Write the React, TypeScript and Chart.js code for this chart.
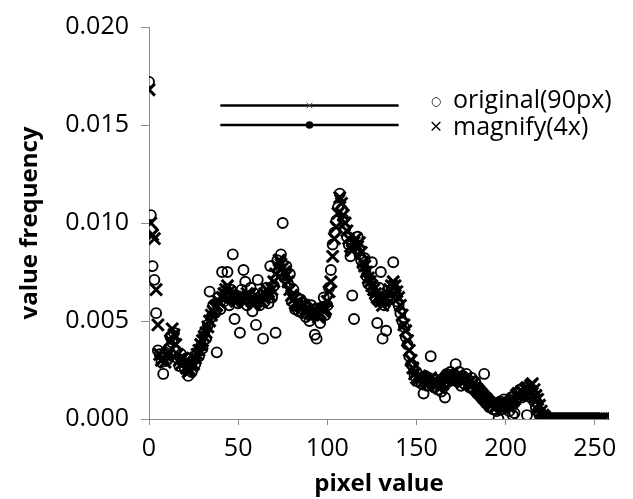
import React, { useEffect, useRef } from "react";
import { Chart, registerables } from "chart.js";
Chart.register(...registerables);

const PIXEL_VALUES: number[] = Array.from({ length: 256 }, (_, i) => i);

const ORIGINAL: number[] = [
  0.0172, 0.0104, 0.0078, 0.0071, 0.0054, 0.0035, 0.0033, 0.0029, 0.0023, 0.0034,
  0.0030, 0.0036, 0.0042, 0.0039, 0.0044, 0.0035, 0.0031, 0.0027, 0.0033, 0.0029,
  0.0026, 0.0031, 0.0022, 0.0027, 0.0024, 0.0030, 0.0028, 0.0034, 0.0032, 0.0037,
  0.0036, 0.0044, 0.0041, 0.0048, 0.0065, 0.0052, 0.0058, 0.0054, 0.0034, 0.0062,
  0.0056, 0.0075, 0.0060, 0.0066, 0.0075, 0.0058, 0.0066, 0.0084, 0.0051, 0.0063,
  0.0059, 0.0044, 0.0066, 0.0076, 0.0070, 0.0058, 0.0061, 0.0067, 0.0055, 0.0064,
  0.0048, 0.0071, 0.0058, 0.0063, 0.0041, 0.0060, 0.0067, 0.0059, 0.0078, 0.0062,
  0.0068, 0.0044, 0.0081, 0.0076, 0.0084, 0.0100, 0.0072, 0.0078, 0.0069, 0.0074,
  0.0060, 0.0066, 0.0056, 0.0062, 0.0055, 0.0061, 0.0054, 0.0059, 0.0052, 0.0057,
  0.0050, 0.0058, 0.0053, 0.0043, 0.0041, 0.0055, 0.0049, 0.0057, 0.0062, 0.0053,
  0.0058, 0.0067, 0.0076, 0.0089, 0.0095, 0.0101, 0.0108, 0.0115, 0.0107, 0.0102,
  0.0097, 0.0093, 0.0089, 0.0083, 0.0063, 0.0051, 0.0087, 0.0093, 0.0084, 0.0081,
  0.0078, 0.0082, 0.0073, 0.0069, 0.0071, 0.0080, 0.0065, 0.0062, 0.0049, 0.0067,
  0.0075, 0.0041, 0.0058, 0.0045, 0.0063, 0.0061, 0.0066, 0.0080, 0.0064, 0.0060,
  0.0058, 0.0054, 0.0050, 0.0047, 0.0042, 0.0038, 0.0032, 0.0028, 0.0027, 0.0022,
  0.0024, 0.0019, 0.0021, 0.0018, 0.0013, 0.0022, 0.0017, 0.0021, 0.0032, 0.0018,
  0.0016, 0.0020, 0.0015, 0.0019, 0.0014, 0.0018, 0.0011, 0.0023, 0.0019, 0.0024,
  0.0020, 0.0023, 0.0028, 0.0019, 0.0024, 0.0017, 0.0022, 0.0018, 0.0023, 0.0020,
  0.0016, 0.0021, 0.0015, 0.0019, 0.0013, 0.0016, 0.0012, 0.0010, 0.0023, 0.0008,
  0.0011, 0.0006, 0.0009, 0.0005, 0.0008, 0.0004, 0.0000, 0.0009, 0.0005, 0.0010,
  0.0006, 0.0009, 0.0004, 0.0011, 0.0002, 0.0003, 0.0010, 0.0013, 0.0015, 0.0011,
  0.0016, 0.0012, 0.0002, 0.0015, 0.0011, 0.0013, 0.0009, 0.0006, 0.0004, 0.0002,
  0.0001, 0, 0, 0, 0, 0, 0, 0, 0, 0,
  0, 0, 0, 0, 0, 0, 0, 0, 0, 0,
  0, 0, 0, 0, 0, 0, 0, 0, 0, 0,
  0, 0, 0, 0, 0, 0,
];

const MAGNIFY: number[] = [
  0.0168, 0.0100, 0.0094, 0.0092, 0.0066, 0.0048, 0.0033, 0.0030, 0.0031, 0.0029,
  0.0032, 0.0034, 0.0040, 0.0046, 0.0043, 0.0038, 0.0033, 0.0030, 0.0028, 0.0031,
  0.0029, 0.0026, 0.0024, 0.0025, 0.0027, 0.0028, 0.0031, 0.0033, 0.0035, 0.0038,
  0.0040, 0.0042, 0.0044, 0.0047, 0.0050, 0.0053, 0.0055, 0.0057, 0.0058, 0.0060,
  0.0059, 0.0062, 0.0064, 0.0066, 0.0068, 0.0065, 0.0063, 0.0062, 0.0061, 0.0060,
  0.0062, 0.0063, 0.0061, 0.0060, 0.0062, 0.0064, 0.0063, 0.0061, 0.0060, 0.0059,
  0.0060, 0.0062, 0.0061, 0.0060, 0.0062, 0.0064, 0.0066, 0.0065, 0.0063, 0.0066,
  0.0070, 0.0074, 0.0078, 0.0081, 0.0079, 0.0077, 0.0075, 0.0073, 0.0070, 0.0066,
  0.0063, 0.0061, 0.0059, 0.0058, 0.0060, 0.0058, 0.0057, 0.0058, 0.0056, 0.0055,
  0.0056, 0.0054, 0.0053, 0.0055, 0.0054, 0.0052, 0.0054, 0.0056, 0.0055, 0.0056,
  0.0060, 0.0065, 0.0070, 0.0083, 0.0092, 0.0098, 0.0105, 0.0113, 0.0110, 0.0104,
  0.0100, 0.0096, 0.0092, 0.0088, 0.0086, 0.0090, 0.0092, 0.0088, 0.0090, 0.0085,
  0.0080, 0.0078, 0.0075, 0.0072, 0.0070, 0.0068, 0.0066, 0.0064, 0.0062, 0.0061,
  0.0060, 0.0058, 0.0060, 0.0062, 0.0064, 0.0066, 0.0068, 0.0070, 0.0068, 0.0065,
  0.0062, 0.0058, 0.0053, 0.0048, 0.0045, 0.0040, 0.0035, 0.0030, 0.0026, 0.0023,
  0.0021, 0.0020, 0.0022, 0.0021, 0.0019, 0.0020, 0.0018, 0.0020, 0.0021, 0.0019,
  0.0018, 0.0017, 0.0018, 0.0016, 0.0017, 0.0018, 0.0020, 0.0021, 0.0022, 0.0021,
  0.0022, 0.0020, 0.0021, 0.0022, 0.0020, 0.0021, 0.0019, 0.0020, 0.0021, 0.0018,
  0.0019, 0.0017, 0.0018, 0.0016, 0.0015, 0.0014, 0.0013, 0.0012, 0.0011, 0.0010,
  0.0009, 0.0008, 0.0007, 0.0008, 0.0006, 0.0007, 0.0008, 0.0007, 0.0006, 0.0007,
  0.0008, 0.0007, 0.0006, 0.0008, 0.0009, 0.0010, 0.0012, 0.0013, 0.0012, 0.0014,
  0.0013, 0.0015, 0.0016, 0.0014, 0.0017, 0.0018, 0.0015, 0.0012, 0.0010, 0.0007,
  0.0004, 0.0002, 0.0001, 0, 0, 0, 0, 0, 0, 0,
  0, 0, 0, 0, 0, 0, 0, 0, 0, 0,
  0, 0, 0, 0, 0, 0, 0, 0, 0, 0,
  0, 0, 0, 0, 0, 0,
];

const X_TICKS: number[] = [0, 50, 100, 150, 200, 250];
const Y_TICKS: number[] = [0, 0.005, 0.01, 0.015, 0.02];
const LEGEND_SYMBOLS: string[] = ["○", "×"];
const LEGEND_LABELS: string[] = ["original(90px)", "magnify(4x)"];
const REF_LINE_X: number[] = [40, 140];
const REF_LINE_Y: number[] = [0.016, 0.015];
const REF_MARK_X = 90;

const FONT = '"Open Sans", "DejaVu Sans", sans-serif';
const AXIS_GRAY = "#8c8c8c";

const legendPlugin = {
  id: "textLegend",
  afterDatasetsDraw(chart: any) {
    const ctx = chart.ctx;
    ctx.save();
    ctx.fillStyle = "#000";
    ctx.textBaseline = "middle";
    const ys = [101, 128];
    LEGEND_LABELS.forEach((label, i) => {
      ctx.textAlign = "center";
      ctx.font = i === 0 ? `12px ${FONT}` : `22px ${FONT}`;
      ctx.fillText(LEGEND_SYMBOLS[i], 436, ys[i] + (i === 0 ? 1 : 0));
      ctx.textAlign = "left";
      ctx.font = `25px ${FONT}`;
      ctx.fillText(label, 453, ys[i]);
    });
    ctx.restore();
  },
};

export default function App() {
  const ref = useRef<HTMLCanvasElement | null>(null);
  useEffect(() => {
    if (!ref.current) return;
    const chart = new Chart(ref.current, {
      type: "scatter",
      data: {
        datasets: [
          {
            type: "line",
            label: "ref1",
            data: REF_LINE_X.map((x) => ({ x, y: REF_LINE_Y[0] })),
            borderColor: "#000",
            borderWidth: 2.5,
            pointRadius: 0,
            showLine: true,
            order: 0,
          } as any,
          {
            type: "line",
            label: "ref2",
            data: REF_LINE_X.map((x) => ({ x, y: REF_LINE_Y[1] })),
            borderColor: "#000",
            borderWidth: 2.5,
            pointRadius: 0,
            showLine: true,
            order: 0,
          } as any,
          {
            label: "refMark1",
            data: [{ x: REF_MARK_X, y: REF_LINE_Y[0] }],
            pointStyle: "crossRot",
            pointRadius: 4,
            borderWidth: 1,
            borderColor: "#555",
            order: -1,
          },
          {
            label: "refMark2",
            data: [{ x: REF_MARK_X, y: REF_LINE_Y[1] }],
            pointStyle: "circle",
            pointRadius: 3.8,
            borderWidth: 0,
            backgroundColor: "#000",
            order: -1,
          },
          {
            label: "magnify(4x)",
            data: PIXEL_VALUES.map((x, i) => ({ x, y: MAGNIFY[i] })),
            pointStyle: "crossRot",
            pointRadius: 8.3,
            borderWidth: 3,
            borderColor: "#000",
            backgroundColor: "#000",
            order: 1,
          },
          {
            label: "original(90px)",
            data: PIXEL_VALUES.map((x, i) => ({ x, y: ORIGINAL[i] })),
            pointStyle: "circle",
            pointRadius: 5,
            borderWidth: 1.9,
            borderColor: "#000",
            backgroundColor: "rgba(0,0,0,0)",
            order: 2,
          },
        ],
      },
      options: {
        animation: false,
        responsive: false,
        devicePixelRatio: 1,
        layout: { padding: { left: 0, top: 20, right: 24, bottom: 0 } },
        plugins: { legend: { display: false }, tooltip: { enabled: false } },
        scales: {
          x: {
            type: "linear",
            min: 0,
            max: 258,
            afterBuildTicks: (s: any) => {
              s.ticks = X_TICKS.map((v) => ({ value: v }));
            },
            afterFit: (s: any) => {
              s.height = 80;
            },
            border: { display: true, color: AXIS_GRAY, width: 1 },
            grid: {
              drawOnChartArea: false,
              drawTicks: true,
              tickLength: 6,
              tickColor: AXIS_GRAY,
            },
            ticks: {
              color: "#000",
              font: { family: FONT, size: 25 },
              padding: 9,
              maxRotation: 0,
              callback: (v: any) => String(v),
            },
            title: {
              display: true,
              text: "pixel value",
              color: "#000",
              font: { family: FONT, size: 24, weight: "bold" },
              padding: { top: 0, bottom: 0 },
            },
          },
          y: {
            type: "linear",
            min: 0,
            max: 0.02,
            afterBuildTicks: (s: any) => {
              s.ticks = Y_TICKS.map((v) => ({ value: v }));
            },
            afterFit: (s: any) => {
              s.width = 149;
            },
            border: { display: true, color: AXIS_GRAY, width: 1 },
            grid: {
              drawOnChartArea: false,
              drawTicks: true,
              tickLength: 8,
              tickColor: AXIS_GRAY,
            },
            ticks: {
              color: "#000",
              font: { family: FONT, size: 25 },
              padding: 12,
              callback: (v: any) => Number(v).toFixed(3),
            },
            title: {
              display: true,
              text: "value frequency",
              color: "#000",
              font: { family: FONT, size: 24, weight: "bold" },
              padding: { top: 16, bottom: 0 },
            },
          },
        },
      },
      plugins: [legendPlugin],
    });
    return () => chart.destroy();
  }, []);
  return (
    <div style={{ position: "fixed", left: 0, top: 0, width: 633, height: 499, background: "#fff" }}>
      <canvas ref={ref} width={633} height={499} style={{ width: 633, height: 499 }} />
    </div>
  );
}
